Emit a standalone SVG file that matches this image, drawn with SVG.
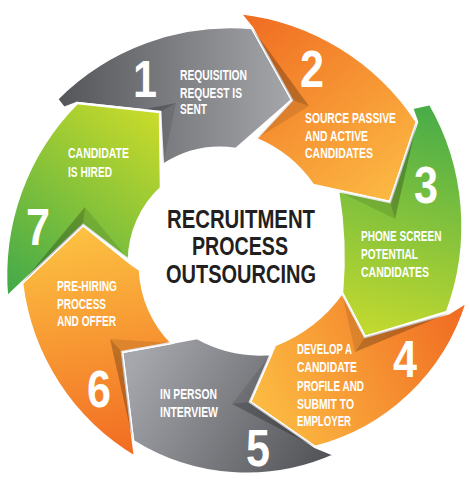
<svg xmlns="http://www.w3.org/2000/svg" width="470" height="488" viewBox="0 0 470 488">
<defs>
<linearGradient id="g1" gradientUnits="userSpaceOnUse" x1="60" y1="100" x2="290" y2="100"><stop offset="0" stop-color="#55565a"/><stop offset="1" stop-color="#a5a6aa"/></linearGradient>
<linearGradient id="g2" gradientUnits="userSpaceOnUse" x1="250" y1="15" x2="385" y2="200"><stop offset="0" stop-color="#f06d22"/><stop offset="1" stop-color="#fcb843"/></linearGradient>
<linearGradient id="g3" gradientUnits="userSpaceOnUse" x1="425" y1="110" x2="365" y2="330"><stop offset="0" stop-color="#4aad48"/><stop offset="1" stop-color="#c2d92f"/></linearGradient>
<linearGradient id="g4" gradientUnits="userSpaceOnUse" x1="255" y1="400" x2="465" y2="305"><stop offset="0" stop-color="#fcbb42"/><stop offset="1" stop-color="#f06a22"/></linearGradient>
<linearGradient id="g5" gradientUnits="userSpaceOnUse" x1="140" y1="350" x2="330" y2="465"><stop offset="0" stop-color="#a6a7ac"/><stop offset="1" stop-color="#505155"/></linearGradient>
<linearGradient id="g6" gradientUnits="userSpaceOnUse" x1="85" y1="230" x2="130" y2="455"><stop offset="0" stop-color="#fcc142"/><stop offset="1" stop-color="#f26b22"/></linearGradient>
<linearGradient id="g7" gradientUnits="userSpaceOnUse" x1="160" y1="115" x2="15" y2="295"><stop offset="0" stop-color="#cadb2a"/><stop offset="1" stop-color="#43aa49"/></linearGradient>
<style>
.seg{stroke:#fff;stroke-width:2.5;stroke-linejoin:miter}
.fd{fill:#000;opacity:0.24}
.fl{fill:#000;opacity:0.1}
.num{font-family:"Liberation Sans","DejaVu Sans",Arial,sans-serif;font-weight:bold;font-size:51px;fill:#fff;text-anchor:middle}
.lbl{font-family:"Liberation Sans Narrow","Liberation Sans","DejaVu Sans",Arial,sans-serif;font-weight:bold;font-size:14px;fill:#fff}
.ttl{font-family:"Liberation Sans","DejaVu Sans",Arial,sans-serif;font-weight:bold;font-size:25px;fill:#231f20;text-anchor:middle}
</style>
</defs>
<rect width="470" height="488" fill="#fff"/>
<g id="connectors"></g>
<g id="step1">
<path class="seg" fill="url(#g1)" d="M57,99 A245,245 0 0 1 252,28 L292,100 L236,149 A105,105 0 0 0 163,165 L160,112 L77,103 L64,108 Z"/>
<polygon class="fd" points="140,110 160,112 176,103"/>
<polygon class="fl" points="160,112 163,165 176,103"/>
<text class="num" x="145" y="97" textLength="24" lengthAdjust="spacingAndGlyphs">1</text>
<text class="lbl" x="180" y="80" textLength="67" lengthAdjust="spacingAndGlyphs">REQUISITION</text>
<text class="lbl" x="180" y="97.5" textLength="62" lengthAdjust="spacingAndGlyphs">REQUEST IS</text>
<text class="lbl" x="180" y="114" textLength="27" lengthAdjust="spacingAndGlyphs">SENT</text>
</g>
<g id="step2">
<path class="seg" fill="url(#g2)" d="M240,13 A245,245 0 0 1 417,122 L390,202 L313,185 A130,130 0 0 0 256,139 L292,100 L252,28 Z"/>
<polygon class="fd" points="252,28 292,100 309,106"/>
<polygon class="fl" points="292,100 256,139 309,106"/>
<text class="num" x="312" y="87" textLength="24" lengthAdjust="spacingAndGlyphs">2</text>
<text class="lbl" x="305" y="123" textLength="91" lengthAdjust="spacingAndGlyphs">SOURCE PASSIVE</text>
<text class="lbl" x="305" y="141" textLength="63" lengthAdjust="spacingAndGlyphs">AND ACTIVE</text>
<text class="lbl" x="305" y="158" textLength="68" lengthAdjust="spacingAndGlyphs">CANDIDATES</text>
</g>
<g id="step3">
<path class="seg" fill="url(#g3)" d="M430,104 A245,245 0 0 1 447,312 L365,337 L342,293 A400,400 0 0 0 338,191 L390,202 L417,122 L412,108 Z"/>
<polygon class="fd" points="417,122 390,202 395,219"/>
<polygon class="fl" points="390,202 338,191 395,219"/>
<text class="num" x="426" y="203" textLength="24" lengthAdjust="spacingAndGlyphs">3</text>
<text class="lbl" transform="translate(361,241) scale(0.72,1)" x="0" y="0">PHONE SCREEN</text>
<text class="lbl" x="361" y="259" textLength="57" lengthAdjust="spacingAndGlyphs">POTENTIAL</text>
<text class="lbl" x="361" y="277" textLength="68" lengthAdjust="spacingAndGlyphs">CANDIDATES</text>
</g>
<g id="step4">
<path class="seg" fill="url(#g4)" d="M467,302 A215,215 0 0 1 315,447 L250,402 L275,345 A150,150 0 0 0 342,293 L365,337 L449,313 Z"/>
<polygon class="fd" points="449,313 365,337 355,352"/>
<polygon class="fl" points="365,337 342,293 355,352"/>
<text class="num" x="405" y="377" textLength="24" lengthAdjust="spacingAndGlyphs">4</text>
<text class="lbl" x="297" y="354" textLength="55" lengthAdjust="spacingAndGlyphs">DEVELOP A</text>
<text class="lbl" x="297" y="372" textLength="60" lengthAdjust="spacingAndGlyphs">CANDIDATE</text>
<text class="lbl" x="297" y="391" textLength="67" lengthAdjust="spacingAndGlyphs">PROFILE AND</text>
<text class="lbl" x="297" y="409" textLength="57" lengthAdjust="spacingAndGlyphs">SUBMIT TO</text>
<text class="lbl" x="297" y="426" textLength="54" lengthAdjust="spacingAndGlyphs">EMPLOYER</text>
</g>
<g id="step5">
<path class="seg" fill="url(#g5)" d="M335,455 A215,215 0 0 1 133,441 L122,352 L197,338 A130,130 0 0 0 271,354 L250,402 L315,447 Z"/>
<polygon class="fd" points="315,447 250,402 232,404"/>
<polygon class="fl" points="250,402 271,354 232,404"/>
<text class="num" x="258" y="466" textLength="24" lengthAdjust="spacingAndGlyphs">5</text>
<text class="lbl" x="160" y="399" textLength="57" lengthAdjust="spacingAndGlyphs">IN PERSON</text>
<text class="lbl" x="160" y="417" textLength="58" lengthAdjust="spacingAndGlyphs">INTERVIEW</text>
</g>
<g id="step6">
<path class="seg" fill="url(#g6)" d="M135,457 A235,235 0 0 1 22,283 L83,225 L130,263 L140,270 A110,110 0 0 0 172,343 L122,352 L133,441 Z"/>
<polygon class="fd" points="133,441 122,352 110,339"/>
<polygon class="fl" points="122,352 172,343 110,339"/>
<text class="num" x="99" y="407" textLength="24" lengthAdjust="spacingAndGlyphs">6</text>
<text class="lbl" x="57" y="291" textLength="60" lengthAdjust="spacingAndGlyphs">PRE-HIRING</text>
<text class="lbl" x="57" y="309" textLength="49" lengthAdjust="spacingAndGlyphs">PROCESS</text>
<text class="lbl" x="57" y="326" textLength="59" lengthAdjust="spacingAndGlyphs">AND OFFER</text>
</g>
<g id="step7">
<path class="seg" fill="url(#g7)" d="M7,297 A245,245 0 0 1 77,103 L160,112 L161,188 A100,100 0 0 0 129,260 L83,225 Z"/>
<polygon class="fd" points="22,283 83,225 85,207"/>
<polygon class="fl" points="83,225 129,260 85,207"/>
<text class="num" x="38" y="245" textLength="24" lengthAdjust="spacingAndGlyphs">7</text>
<text class="lbl" x="68" y="158" textLength="61" lengthAdjust="spacingAndGlyphs">CANDIDATE</text>
<text class="lbl" x="68" y="177" textLength="44" lengthAdjust="spacingAndGlyphs">IS HIRED</text>
</g>
<g id="title">
<text class="ttl" x="241" y="228" textLength="148" lengthAdjust="spacingAndGlyphs">RECRUITMENT</text>
<text class="ttl" x="240" y="255" textLength="96" lengthAdjust="spacingAndGlyphs">PROCESS</text>
<text class="ttl" x="241" y="283" textLength="150" lengthAdjust="spacingAndGlyphs">OUTSOURCING</text>
</g>
</svg>
